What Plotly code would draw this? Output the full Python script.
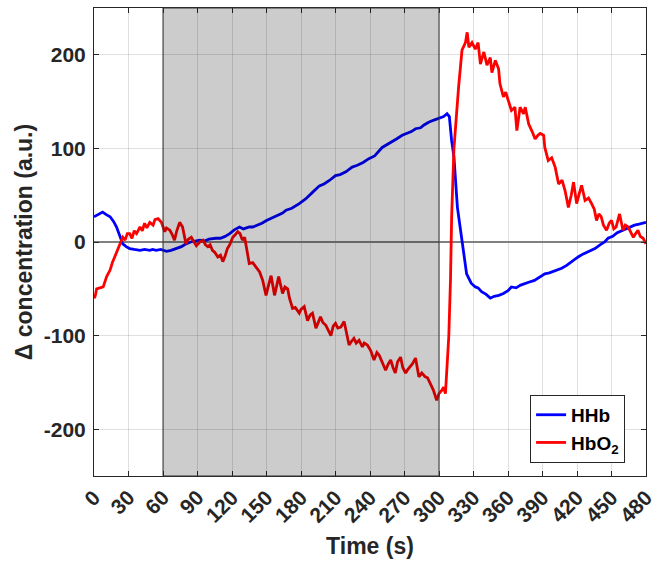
import plotly.graph_objects as go

# ---- data ----
hhb_t = [0, 3, 7.5, 11, 14, 17, 19.6, 22, 25, 28, 31, 35, 40, 44, 48.5, 51, 54, 58, 63, 67, 71.7, 76, 80, 84, 88,
         92, 96, 100, 106, 110, 114, 118, 122, 126.5, 130, 135, 138, 142, 146, 150, 155, 160, 164, 167, 172, 178.5,
         184, 190, 196, 200, 205, 210, 214, 219, 224.5, 229, 234, 239, 244, 250.6, 255, 259, 263, 268, 272, 276,
         279.6, 284, 287, 291, 295, 300, 304, 307, 309, 311, 313, 316, 320, 324, 328, 331.6, 334, 337, 341, 344.6,
         348, 352, 356, 360, 363, 367, 371, 375, 378, 383, 388, 392, 396, 400, 403, 406.7, 411, 416, 421, 425, 430,
         435.6, 440, 444, 447, 451, 455, 458.7, 462, 466, 470, 474, 477, 480]
hhb_v = [27, 29, 32, 29, 27, 22, 16, 8, -2, -5, -7, -8, -9, -8, -9, -8, -9, -8, -10, -9, -7, -5, -2, 0, 1,
         2, 1, 3, 4, 4, 6, 9, 13, 16, 14, 16, 16, 18, 20, 23, 26, 29, 31, 34, 36, 41,
         46, 53, 60, 62, 66, 71, 72, 75, 80, 82, 85, 89, 92, 101, 104, 107, 110, 114, 116, 118,
         121, 122, 125, 128, 130, 132, 134, 137, 134, 108, 91, 37, 2, -34, -44, -48, -49, -53, -56, -60,
         -58, -57, -55, -52, -48, -49, -46, -44, -43, -41, -37, -34, -33, -31, -30, -28, -25, -20, -16, -13, -10,
         -7, -3, 0, 4, 6, 10, 12, 13, 16, 18, 19, 20, 21]

hbo2_t = [0, 1, 2.3, 5, 8, 11, 14, 16, 18, 20, 22.5, 25, 27, 29, 31, 33, 35, 37, 40, 42, 44, 46, 48.5, 51.4, 53,
          55.7, 58.6, 60, 61.5, 63, 66, 68, 70, 72, 74.5, 77, 78.5, 80, 82, 84.6, 87, 89, 92, 94.7, 97, 99, 101,
          103, 105, 107.7, 110, 112, 114, 116, 118, 120.7, 123, 125, 127, 129, 131, 133, 135, 138, 141, 144,
          146.7, 149.6, 152, 154, 157, 160.6, 164, 166, 168.4, 170, 172.7, 175, 178.5, 180, 182.8, 185.7, 188,
          190, 193, 195, 197, 199, 201.6, 204, 206, 208, 210, 212, 214.6, 217.5, 220, 221.8, 224, 226, 228,
          230.5, 233.4, 235, 237.7, 240.6, 243.5, 246, 248, 251, 253.6, 256, 258, 260, 262, 264, 266.6, 268.5,
          271, 273, 275, 277, 279.6, 282.5, 285, 288, 290, 292.5, 295, 298, 300, 302.7, 304, 305.6, 307, 308.5,
          310, 311, 313, 314, 317, 320, 323, 324.5, 326, 328.7, 331.6, 334, 336, 339, 341.7, 344.6, 346, 349,
          351.8, 353, 356, 358, 360.5, 363, 366, 367.7, 370.5, 373.5, 375, 378, 381, 383.6, 386, 388, 391, 392,
          395, 398, 401, 404, 407, 409.6, 412.5, 415, 417, 419.7, 422, 424, 427, 430, 432.7, 435, 437, 439, 441,
          443, 445.7, 448, 450, 452, 454, 457, 460, 462, 464.5, 467, 469, 471, 473, 475, 477.5, 480]
hbo2_v = [-60, -58, -50, -49, -48, -37, -30, -22, -16, -8, -2, 5, 2, 9, 9, 4, 12, 9, 16, 12, 20, 15, 21, 18, 24,
          25, 21, 16, 11, 15, 12.5, 8, 2, 12, 21, 16, 8, -2, 3, 5, 0, -4, 0, 2, -3, -5, -3,
          -9, -11, -16, -14, -21, -15, -7, -3, 5, 8, 11, 9, 2, 5, -8, -23, -22, -27, -32,
          -41, -57, -45, -36, -57, -37, -55, -48, -50, -60, -71, -70, -76, -72, -69, -84, -78,
          -76, -92, -85, -80, -86, -89, -95, -100, -90, -87, -92, -91, -85, -100, -110, -106, -103, -108,
          -105, -112, -108, -110, -116, -126, -118, -121, -130, -137, -130, -126, -134, -140, -128, -123, -134,
          -140, -136, -133, -130, -124, -144, -140, -144, -145, -151, -158, -169, -162, -158, -155, -162, -130, -101,
          -40, 27, 100, 119, 165, 205, 213, 224, 208, 213, 206, 213, 190, 203, 189, 197, 181, 194,
          185, 169, 155, 160, 151, 140.5, 144, 119, 144, 137, 144, 126, 118, 110, 114, 116, 114, 101,
          87, 90, 80, 62, 66, 55, 37, 50, 64, 41, 52, 60.5, 44.5, 47, 41, 35, 23, 30, 27,
          18, 12.5, 20, 23, 14, 16, 30, 12.5, 18, 16, 10, 5, 9, 12.5, 6, 4, -2]

x_ticks = list(range(0, 481, 30))
y_ticks = [-200, -100, 0, 100, 200]
stim_start, stim_end = 60, 300

FONT = "Liberation Sans, Arial, sans-serif"
AX = "#262626"

fig = go.Figure()
fig.add_trace(go.Scatter(x=hhb_t, y=hhb_v, mode="lines", name="<b>HHb</b>",
                         line=dict(color="#0000ff", width=2.8)))
fig.add_trace(go.Scatter(x=hbo2_t, y=hbo2_v, mode="lines", name="<b>HbO<sub>2</sub></b>",
                         line=dict(color="#ff0000", width=2.8)))

fig.add_shape(type="rect", xref="x", yref="paper", x0=stim_start, x1=stim_end, y0=0, y1=1,
              fillcolor="rgba(0,0,0,0.2)", line=dict(color="#333333", width=1), layer="above")

axis_common = dict(showline=True, linecolor=AX, linewidth=1, mirror="ticks", ticks="inside",
                   ticklen=5, tickcolor=AX, showgrid=True, gridcolor="rgba(0,0,0,0.12)", gridwidth=1,
                   tickfont=dict(family=FONT, size=21, color=AX))

fig.update_layout(
    width=663, height=570,
    margin=dict(l=94, r=15, t=7, b=94),
    paper_bgcolor="white", plot_bgcolor="white",
    font=dict(family=FONT, color=AX),
    xaxis=dict(range=[0, 480], tickvals=x_ticks, ticktext=[f"<b>{v}</b>" for v in x_ticks],
               tickangle=-45, zeroline=False,
               title=dict(text="<b>Time (s)</b>", font=dict(family=FONT, size=23, color=AX), standoff=12),
               **axis_common),
    yaxis=dict(range=[-250, 250], tickvals=y_ticks, ticktext=[f"<b>{v}</b>" for v in y_ticks],
               zeroline=True, zerolinecolor="#808080", zerolinewidth=1.5, ticklabelstandoff=3,
               title=dict(text="<b>Δ concentration (a.u.)</b>", font=dict(family=FONT, size=23, color=AX),
                          standoff=4),
               **axis_common),
    legend=dict(x=0.79, y=0.028, xanchor="left", yanchor="bottom", bgcolor="white",
                bordercolor=AX, borderwidth=1, itemwidth=30,
                font=dict(family=FONT, size=19, color="black"), tracegroupgap=0),
    showlegend=True,
)

fig.write_html("out.html")
